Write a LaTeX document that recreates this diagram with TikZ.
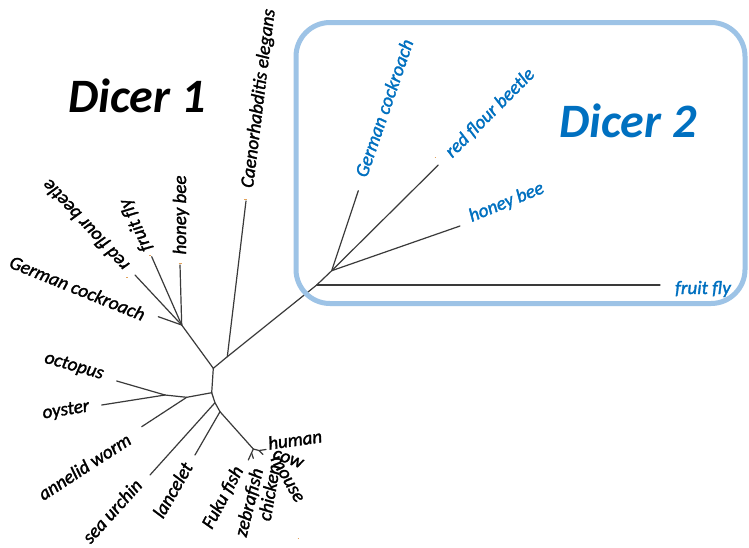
\documentclass[tikz,border=0pt]{standalone}
\usepackage{fontspec}
\setmainfont{Carlito}
\newfontfamily\taxonfont[UprightFont=*-Italic,FakeBold=1.6]{Carlito}
\definecolor{treegray}{HTML}{3A3A3A}
\definecolor{labblue}{HTML}{0070C0}
\definecolor{boxblue}{HTML}{9DC3E6}
\definecolor{speck}{HTML}{E2A25A}
\begin{document}
\begin{tikzpicture}[x=1pt,y=-1pt,
  branch/.style={draw=treegray,line width=1.2pt,line cap=round},
  taxon/.style={font=\fontsize{19}{20}\selectfont\taxonfont,inner sep=0pt,text=black},
  taxonb/.style={taxon,text=labblue},
  bigtitle/.style={font=\fontsize{48}{50}\selectfont\bfseries\itshape,inner sep=0pt,anchor=base},
  specktick/.style={draw=speck,line width=0.9pt}]
\useasboundingbox (0,0) rectangle (749,547);
\fill[white] (0,0) rectangle (749,547);
% ---- tree coordinates ----
\coordinate (N1) at (181.7,325);
\coordinate (hb1) at (180,265);
\coordinate (ff1) at (151.7,256.7);
\coordinate (rfb1) at (135,275);
\coordinate (gc1) at (158.3,316.7);
\coordinate (A) at (213.3,368.3);
\coordinate (B) at (227.3,356.7);
\coordinate (ce) at (246,201);
\coordinate (R) at (316.7,285);
\coordinate (D) at (331.7,270.7);
\coordinate (gc2) at (358.3,190.7);
\coordinate (rfb2) at (438.3,165);
\coordinate (hb2) at (460,226);
\coordinate (ff2) at (660,285);
\coordinate (C) at (211.7,392.7);
\coordinate (M1) at (186.7,397.3);
\coordinate (M2) at (165,395);
\coordinate (aw) at (141.7,426.7);
\coordinate (oct) at (116.7,381);
\coordinate (oys) at (101.7,405);
\coordinate (E1) at (215,402.7);
\coordinate (E2) at (220,411.7);
\coordinate (su) at (150,475);
\coordinate (lan) at (195,455);
\coordinate (V1) at (253.3,449);
\coordinate (F1) at (251.7,453.3);
\coordinate (fuku) at (248.3,460);
\coordinate (zeb) at (253.3,458.3);
\coordinate (Mm) at (259,450.5);
\coordinate (hum) at (266,449.5);
\coordinate (cw) at (263,454.5);
% ---- branches ----
\draw[branch] (N1) -- (hb1);
\draw[branch] (N1) -- (ff1);
\draw[branch] (N1) -- (rfb1);
\draw[branch] (N1) -- (gc1);
\draw[branch] (N1) -- (A);
\draw[branch] (A) -- (B) -- (R) -- (D);
\draw[branch] (B) -- (ce);
\draw[branch] (R) -- (ff2);
\draw[branch] (D) -- (gc2);
\draw[branch] (D) -- (rfb2);
\draw[branch] (D) -- (hb2);
\draw[branch] (A) -- (C);
\draw[branch] (C) -- (M1) -- (M2);
\draw[branch] (M1) -- (aw);
\draw[branch] (M2) -- (oct);
\draw[branch] (M2) -- (oys);
\draw[branch] (C) -- (E1) -- (E2) -- (V1);
\draw[branch] (E1) -- (su);
\draw[branch] (E2) -- (lan);
\draw[branch] (V1) -- (fuku);
\draw[branch] (F1) -- (zeb);
\draw[branch] (V1) -- (Mm) -- (hum);
\draw[branch] (Mm) -- (cw);
% ---- tiny specks at some tips ----
\draw[specktick] (178.5,263) -- (181.5,263);
\draw[specktick] (244,199.5) -- (247,199.5);
\draw[specktick] (126,277.5) -- (127.5,277.5);
\draw[specktick] (149,255) -- (151,255);
\draw[specktick] (434.5,157) -- (435.5,157);
\draw[specktick] (297.5,538) -- (298.5,538);
% ---- Dicer 2 frame (drawn over the stem) ----
\draw[boxblue,line width=5pt,rounded corners=34pt] (296,22.5) rectangle (745,303.5);
% ---- titles ----
\node[bigtitle] (d1) at (137,112) {Dicer 1};
\node[bigtitle,text=labblue] (d2) at (628,137) {Dicer 2};
% ---- Dicer 1 labels ----
\node[taxon,rotate=83] (lce) at (259,98.5) {Caenorhabditis elegans};
\node[taxon,rotate=90] (lhb1) at (181,215) {honey bee};
\node[taxon,rotate=114] (lff1) at (136,225) {fruit fly};
\node[taxon,rotate=133] (lrfb1) at (86,225) {red flour beetle};
\node[taxon,rotate=-22] (lgc1) at (77.5,288) {German cockroach};
\node[taxon,rotate=-16] (loct) at (74,366.5) {octopus};
\node[taxon,rotate=9] (loys) at (66,410.5) {oyster};
\node[taxon,rotate=33] (law) at (84.5,466.5) {annelid worm};
\node[taxon,rotate=48] (lsu) at (112,511) {sea urchin};
\node[taxon,rotate=60] (llan) at (172.5,490) {lancelet};
\node[taxon,rotate=62] (lfuku) at (223,497.5) {Fuku fish};
\node[taxon,rotate=76] (lzeb) at (249.5,502.5) {zebrafish};
\node[taxon,rotate=80] (lchi) at (269,492.5) {chicken};
\node[taxon,rotate=-60] (lmou) at (287,479) {mouse};
\node[taxon,rotate=-20] (lcow) at (288,459) {cow};
\node[taxon,rotate=8] (lhum) at (295,439.5) {human};
% ---- Dicer 2 labels ----
\node[taxonb,rotate=71] (lgc2) at (384,108) {German cockroach};
\node[taxonb,rotate=45] (lrfb2) at (490,113) {red flour beetle};
\node[taxonb,rotate=22] (lhb2) at (506.5,202.5) {honey bee};
\node[taxonb] (lff2) at (703,289) {fruit fly};
\end{tikzpicture}
\end{document}
